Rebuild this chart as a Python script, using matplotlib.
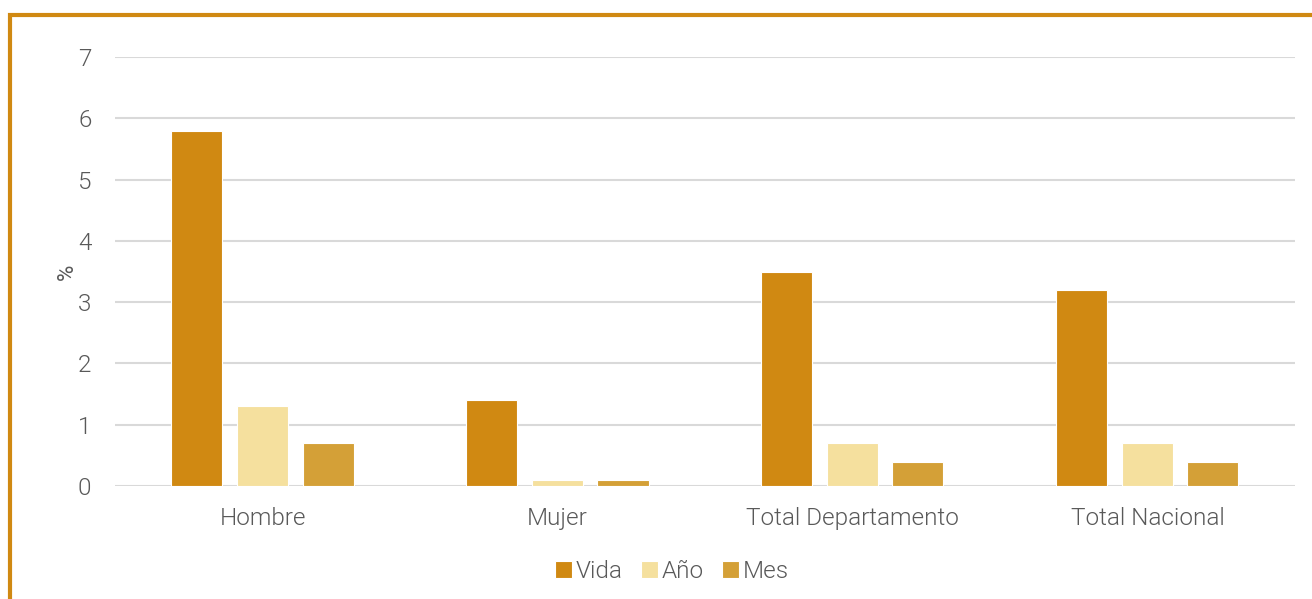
import numpy as np
import matplotlib.pyplot as plt
from matplotlib.patches import Rectangle

plt.rcParams['font.family'] = ['Roboto', 'DejaVu Sans']
plt.rcParams['font.weight'] = 300

categories = ['Hombre', 'Mujer', 'Total Departamento', 'Total Nacional']
series_names = ['Vida', 'Año', 'Mes']
vida = [5.8, 1.4, 3.5, 3.2]
anio = [1.3, 0.1, 0.7, 0.7]
mes = [0.7, 0.1, 0.4, 0.4]
colors = ['#D08912', '#F5E09E', '#D4A037']
text_col = '#595959'

fig = plt.figure(figsize=(13.12, 5.99), dpi=100)
ax = fig.add_axes([0.0877, 0.1886, 0.8993, 0.7162])

x = np.arange(len(categories))
width = 0.173
offsets = [-0.224, 0.0, 0.222]
for vals, name, col, off in zip([vida, anio, mes], series_names, colors, offsets):
    ax.bar(x + off, vals, width, color=col, label=name, edgecolor='white',
           linewidth=0.8, zorder=3)

ax.set_xlim(-0.5, len(categories) - 0.5)
ax.set_ylim(0, 7)
ax.set_yticks(range(0, 8))
ax.yaxis.grid(True, color='#D9D9D9', linewidth=1.5, zorder=0)
ax.set_axisbelow(True)
for s in ax.spines.values():
    s.set_visible(False)
ax.tick_params(axis='both', length=0, labelsize=17.5, labelcolor=text_col)
ax.tick_params(axis='y', pad=17)
ax.tick_params(axis='x', pad=15)
ax.set_xticks(x)
ax.set_xticklabels(categories)
ax.set_ylabel('%', fontsize=16, color=text_col, labelpad=0)

leg = ax.legend(loc='upper center', bbox_to_anchor=(0.472, -0.122), ncol=3,
                frameon=False, fontsize=17.5, handlelength=0.7, handleheight=0.7,
                handletextpad=0.15, columnspacing=0.75)
for t in leg.get_texts():
    t.set_color(text_col)

# orange frame around the chart
fig.patches.append(Rectangle((9.5 / 1312, -0.05), 1.1, 1 - 15 / 599 + 0.05,
                             transform=fig.transFigure, fill=False,
                             edgecolor='#D08912', linewidth=3))

fig.savefig('out.png', dpi=100)
